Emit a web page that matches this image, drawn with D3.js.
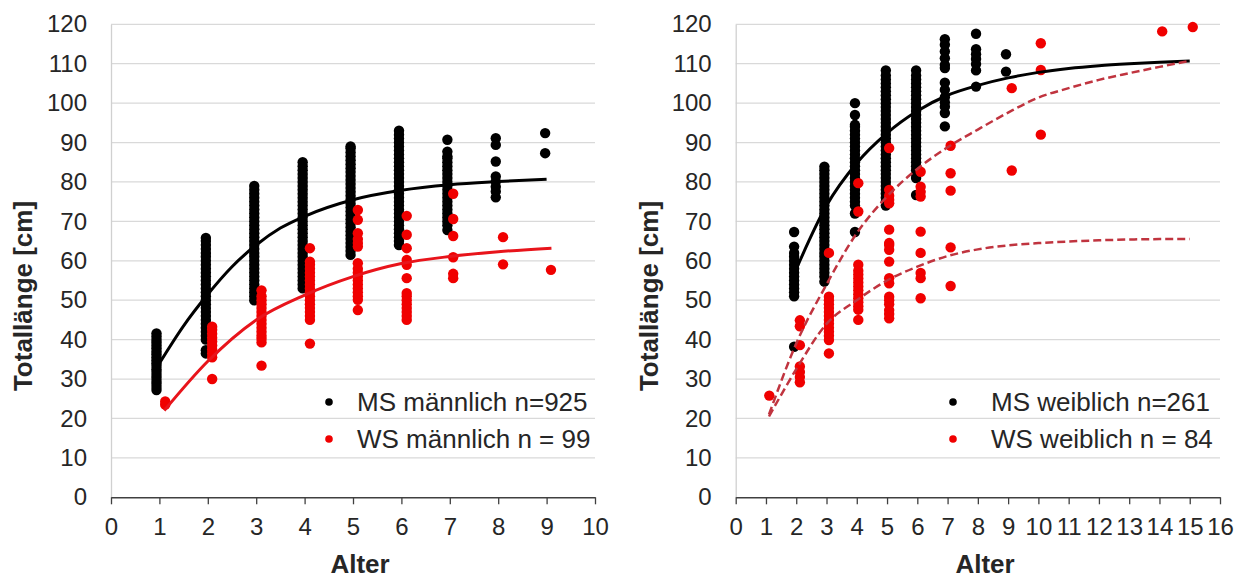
<!DOCTYPE html>
<html>
<head>
<meta charset="utf-8">
<script src="https://cdn.jsdelivr.net/npm/d3@7"></script>
<style>
  body { margin: 0; background: #fff; }
  svg { display: block; }
  text { font-family: "Liberation Sans", Arial, sans-serif; fill: #262626; }
</style>
</head>
<body>
<svg id="chart" width="1242" height="579"></svg>
<script>
// ---- Tick labels ----
const lengthTicks = [0, 10, 20, 30, 40, 50, 60, 70, 80, 90, 100, 110, 120];
const maleAgeTicks = [0, 1, 2, 3, 4, 5, 6, 7, 8, 9, 10];
const femaleAgeTicks = [0, 1, 2, 3, 4, 5, 6, 7, 8, 9, 10, 11, 12, 13, 14, 15, 16];

// ---- Männlich: MS (black) per age column ----
const maleAgesMS = [0.94, 1.96, 2.96, 3.96, 4.95, 5.95, 6.95, 7.95, 8.97];
const maleLengthsMS = [
  [27.2, 28, 28.8, 29.5, 30.3, 31, 31.8, 32.5, 33.3, 34, 34.8, 35.5, 36.3, 37, 37.8, 38.5, 39.3, 40, 40.8, 41.6],
  [36.5, 37.3, 40, 41, 42, 43, 44, 45, 46, 47, 48, 49, 50, 51, 52, 53, 54, 55, 56, 57, 58, 59, 60, 61, 62, 63, 64, 65, 65.8],
  [50, 51, 52, 53, 54, 55, 56, 57, 58, 59, 60, 61, 62, 63, 64, 65, 66, 67, 68, 69, 70, 71, 72, 73, 74, 75, 76, 77, 78, 79],
  [53, 54, 55, 56, 57, 58, 59, 60, 61, 62, 63, 64, 65, 66, 67, 68, 69, 70, 71, 72, 73, 74, 75, 76, 77, 78, 79, 80, 81, 82, 83, 84, 85],
  [61.5, 62.5, 63.5, 64.5, 65.5, 66.5, 67.5, 68.5, 69.5, 70.5, 71.5, 72.5, 73.5, 74.5, 75.5, 76.5, 77.5, 78.5, 79.5, 80.5, 81.5, 82.5, 83.5, 84.5, 85.5, 86.5, 87.5, 88.5, 89],
  [64, 65, 66, 67, 68, 69, 70, 71, 72, 73, 74, 75, 76, 77, 78, 79, 80, 81, 82, 83, 84, 85, 86, 87, 88, 89, 90, 91, 92, 93],
  [67.8, 69, 70, 71, 72, 73, 74, 75, 76, 77, 78, 79, 80, 81, 82, 83, 84, 85, 86, 86.5, 87.7, 90.7],
  [76.1, 77.6, 78.8, 80.1, 81.4, 85.2, 89.4, 91.1],
  [87.3, 92.4]
];

// ---- Männlich: WS (red) per age column ----
const maleAgesWS = [1.12, 2.09, 3.11, 4.11, 5.1, 6.11, 7.07, 8.1, 9.09];
const maleLengthsWS = [
  [23.5, 24.3],
  [30, 35.5, 36.5, 37.5, 38.5, 39.5, 40.5, 41.5, 42.5, 43.3],
  [33.4, 39.3, 40.2, 41, 42, 43, 44, 45, 46, 47, 48, 49, 50, 51, 52.5],
  [39, 45, 46, 47, 48, 49, 50, 51, 52, 53, 54, 55, 56, 57, 58, 59, 59.8, 63.2],
  [47.5, 50.1, 51, 52, 53, 54, 55, 56, 57, 58, 59.4, 63.6, 64.5, 65.5, 67, 70.4, 72.9],
  [45, 46, 47, 48, 49, 50, 51, 51.8, 55.6, 59, 60.2, 63.2, 66.6, 71.4],
  [55.6, 56.7, 60.9, 66.3, 70.6, 77],
  [59.1, 66],
  [57.7]
];

// ---- Männlich: growth curves ----
const maleFitMSAges = [1, 1.5, 2, 2.5, 3, 3.5, 4, 5, 6, 7, 8, 9];
const maleFitMS = [34, 43.5, 51.5, 58.5, 64, 68.3, 71.3, 75.5, 77.9, 79.3, 80.1, 80.7];
const maleFitWSAges = [1.1, 2, 3, 4, 5, 6, 7, 8, 9.1];
const maleFitWS = [22, 34.5, 45, 51.3, 56, 59.3, 61.1, 62.3, 63.2];

// ---- Weiblich: MS (black) per age column ----
const femaleAgesMS = [1.93, 2.93, 3.94, 4.96, 5.96, 6.91, 7.94, 8.93];
const femaleLengthsMS = [
  [38.2, 51, 52, 53, 54, 55, 56, 57, 58, 59, 60, 61, 62, 63.6, 67.3],
  [54.7, 56, 57, 58, 59, 60, 61, 62, 63, 64, 65, 66, 67, 68, 69, 70, 71, 72, 73, 74, 75, 76, 77, 78, 79, 80, 81, 82, 83, 83.9],
  [67.3, 72, 74, 75, 76, 77, 78, 79, 80, 81, 82, 83, 84, 85, 86, 87, 88, 89, 90, 91, 92, 93, 94, 94.5, 97, 100],
  [74, 75, 76, 77, 78, 79, 80, 81, 82, 83, 84, 85, 86, 87, 88, 89, 90, 91, 92, 93, 94, 95, 96, 97, 98, 99, 100, 101, 102, 103, 104, 105, 106, 107, 108.3],
  [76.7, 81, 82, 83, 84, 85, 86, 87, 88, 89, 90, 91, 92, 93, 94, 95, 96, 97, 98, 99, 100, 101, 102, 103, 104, 105, 106, 107, 108.3],
  [94.1, 97.5, 99.1, 100.2, 101.5, 103.4, 105.2, 108.9, 109.7, 111.4, 113.1, 114.8, 116.2],
  [104.2, 108.3, 109.9, 111.2, 112.4, 113.7, 117.6],
  [108, 112.4]
];

// ---- Weiblich: WS (red) per age column ----
const femaleAgesWS = [1.11, 2.12, 3.08, 4.05, 5.07, 6.11, 7.1, 9.12, 10.08, 14.09, 15.1];
const femaleLengthsWS = [
  [25.8],
  [29.2, 30.5, 31.8, 33.2, 38.6, 43.4, 44.9],
  [36.5, 39.9, 41, 42, 43, 44, 45, 46, 47, 48, 49, 50, 50.9, 62],
  [45, 47.6, 48.5, 49.5, 50.5, 51.5, 52.5, 53.5, 54.5, 55.5, 56.5, 57.5, 59, 72.5, 79.7],
  [45.4, 46.5, 47.5, 49, 50, 50.9, 54.3, 55.6, 59.8, 62.8, 64, 64.5, 67.9, 74.6, 75.5, 76.5, 78, 88.6],
  [50.5, 55.6, 56.9, 62, 67.4, 76.3, 77.5, 78.8, 82.6],
  [53.6, 63.4, 77.8, 82.2, 89.2],
  [82.9, 103.8],
  [92, 108.4, 115.2],
  [118.2],
  [119.3]
];

// ---- Weiblich: growth curves ----
const femaleFitMSAges = [2, 3, 4, 5, 6, 7, 8, 9, 10, 11, 12, 13, 14, 15];
const femaleFitMS = [57.9, 74, 84.8, 92.4, 98, 102, 104.5, 106.4, 107.8, 108.8, 109.5, 110, 110.4, 110.7];
const femaleFitWSAges = [1.1, 2, 3, 4, 5, 6, 7, 8, 9, 10, 11, 12, 13, 14, 15];
const femaleFitWSUpper = [21, 39, 54, 67, 76.3, 83.3, 88.8, 93.3, 97.6, 101.4, 103.8, 105.9, 107.6, 109.2, 110.7];
const femaleFitWSLower = [20.5, 32.5, 44, 50, 55, 58.5, 61.2, 62.9, 63.9, 64.5, 64.9, 65.2, 65.4, 65.5, 65.5];

const BLACK = "#000000";
const RED = "#f00000";
const DARK_RED = "#c0343f";

const svg = d3.select("#chart");

function columnsToPoints(ages, lengths) {
  const pts = [];
  ages.forEach((a, i) => lengths[i].forEach(v => pts.push([a, v])));
  return pts;
}

function drawPanel(cfg) {
  const x = d3.scaleLinear().domain(cfg.xDomain).range(cfg.xRange);
  const y = d3.scaleLinear().domain([0, 120]).range([497.3, 24.3]);
  const g = svg.append("g");

  // horizontal gridlines
  g.append("g")
    .selectAll("line")
    .data(lengthTicks.filter(d => d > 0))
    .join("line")
    .attr("x1", x.range()[0]).attr("x2", x.range()[1])
    .attr("y1", d => y(d)).attr("y2", d => y(d))
    .attr("stroke", "#d9d9d9").attr("stroke-width", 1.3);

  // vertical axis (light line + labels)
  const yAxis = g.append("g")
    .attr("transform", `translate(${x.range()[0]},0)`)
    .call(d3.axisLeft(y).tickValues(lengthTicks).tickSize(0).tickPadding(24).tickSizeOuter(0));
  yAxis.select(".domain").attr("stroke", "#d0d0d0").attr("stroke-width", 1.3);
  yAxis.selectAll("text").style("font-size", "24px").attr("fill", "#262626");

  // horizontal axis
  const xAxis = g.append("g")
    .attr("transform", `translate(0,${y(0)})`)
    .call(d3.axisBottom(x).tickValues(cfg.ticks).tickSize(7).tickPadding(14).tickSizeOuter(0));
  xAxis.select(".domain").attr("stroke", "#404040").attr("stroke-width", 1.4);
  xAxis.selectAll(".tick line").attr("stroke", "#404040").attr("stroke-width", 1.3);
  xAxis.selectAll("text").style("font-size", "24px").attr("fill", "#262626");

  // axis titles
  g.append("text")
    .attr("transform", `translate(${cfg.yTitleX},296) rotate(-90)`)
    .attr("text-anchor", "middle").attr("dominant-baseline", "central")
    .style("font-size", "26px").style("font-weight", "bold")
    .text("Totallänge [cm]");
  g.append("text")
    .attr("x", cfg.xTitleX).attr("y", 573)
    .attr("text-anchor", "middle")
    .style("font-size", "26px").style("font-weight", "bold")
    .text("Alter");

  // scatter
  const dots = g.append("g");
  dots.selectAll("circle.ms")
    .data(columnsToPoints(cfg.msAges, cfg.msLengths))
    .join("circle").attr("class", "ms")
    .attr("cx", d => x(d[0])).attr("cy", d => y(d[1])).attr("r", 5.2)
    .attr("fill", BLACK);
  dots.selectAll("circle.ws")
    .data(columnsToPoints(cfg.wsAges, cfg.wsLengths))
    .join("circle").attr("class", "ws")
    .attr("cx", d => x(d[0])).attr("cy", d => y(d[1])).attr("r", 5.2)
    .attr("fill", RED);

  // growth curves
  const line = d3.line().x(d => x(d[0])).y(d => y(d[1])).curve(d3.curveMonotoneX);
  cfg.curves.forEach(c => {
    g.append("path")
      .datum(c.ages.map((a, i) => [a, c.values[i]]))
      .attr("d", line)
      .attr("fill", "none")
      .attr("stroke", c.color)
      .attr("stroke-width", c.width)
      .attr("stroke-dasharray", c.dash || null)
      .attr("stroke-linecap", "butt");
  });

  // legend
  const lg = g.append("g");
  cfg.legend.forEach((item, i) => {
    const cy = 402 + i * 37;
    lg.append("circle").attr("cx", cfg.legendDotX).attr("cy", cy).attr("r", 3.8).attr("fill", item.color);
    lg.append("text")
      .attr("x", cfg.legendTextX).attr("y", cy + 9)
      .style("font-size", "26px")
      .text(item.label);
  });
}

drawPanel({
  xDomain: [0, 10], xRange: [111, 595], ticks: maleAgeTicks,
  yTitleX: 23, xTitleX: 360,
  msAges: maleAgesMS, msLengths: maleLengthsMS,
  wsAges: maleAgesWS, wsLengths: maleLengthsWS,
  curves: [
    { ages: maleFitMSAges, values: maleFitMS, color: BLACK, width: 3 },
    { ages: maleFitWSAges, values: maleFitWS, color: "#e8141b", width: 3 }
  ],
  legendDotX: 329, legendTextX: 357,
  legend: [
    { color: BLACK, label: "MS männlich n=925" },
    { color: RED, label: "WS männlich n = 99" }
  ]
});

drawPanel({
  xDomain: [0, 16], xRange: [735.7, 1220], ticks: femaleAgeTicks,
  yTitleX: 649, xTitleX: 985,
  msAges: femaleAgesMS, msLengths: femaleLengthsMS,
  wsAges: femaleAgesWS, wsLengths: femaleLengthsWS,
  curves: [
    { ages: femaleFitMSAges, values: femaleFitMS, color: BLACK, width: 3 },
    { ages: femaleFitWSAges, values: femaleFitWSUpper, color: DARK_RED, width: 2.5, dash: "8,4" },
    { ages: femaleFitWSAges, values: femaleFitWSLower, color: DARK_RED, width: 2.5, dash: "8,4" }
  ],
  legendDotX: 953, legendTextX: 991,
  legend: [
    { color: BLACK, label: "MS weiblich n=261" },
    { color: RED, label: "WS weiblich n = 84" }
  ]
});
</script>
</body>
</html>
